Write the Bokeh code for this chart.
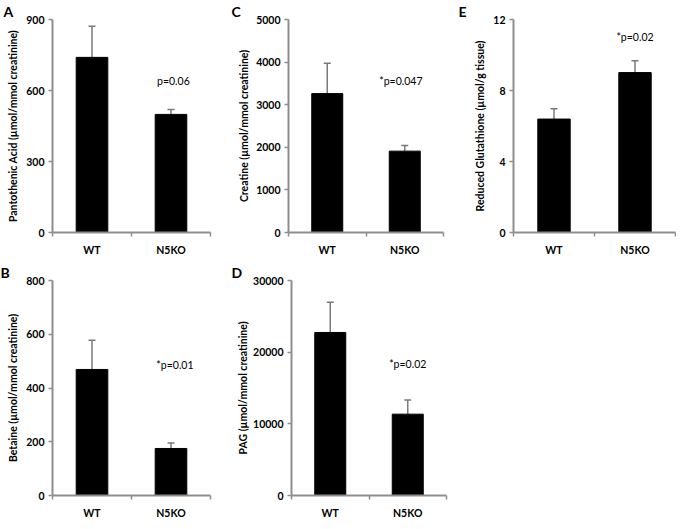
from bokeh.plotting import figure
from bokeh.models import Range1d, FixedTicker, Whisker, TeeHead, ColumnDataSource, Label
from bokeh.layouts import column, row
from bokeh.embed import file_html
from bokeh.resources import INLINE

# ---------------- data ----------------
categories = ["WT", "N5KO"]

pantothenic_mean = [740, 499]
pantothenic_sem = [132, 21]

betaine_mean = [469, 175]
betaine_sem = [109, 20]

creatine_mean = [3260, 1910]
creatine_sem = [715, 135]

pag_mean = [22750, 11350]
pag_sem = [4200, 1970]

glutathione_mean = [6.39, 9.01]
glutathione_sem = [0.58, 0.67]

ticks_pantothenic = [0, 300, 600, 900]
ticks_betaine = [0, 200, 400, 600, 800]
ticks_creatine = [0, 1000, 2000, 3000, 4000, 5000]
ticks_pag = [0, 10000, 20000, 30000]
ticks_glutathione = [0, 4, 8, 12]

p_texts = ["p=0.06", "*p=0.01", "*p=0.047", "*p=0.02", "*p=0.02"]

# ---------------- style ----------------
FONT = "Lato"
AXIS_GRAY = "#8e8e8e"
ERR_GRAY = "#7a7a7a"


def make_panel(letter, ylabel, means, sems, yticks, ptext, p_pos,
               width, height, left, right, top, bottom, label_standoff,
               letter_offset):
    n = len(categories)
    xs = [i + 0.5 for i in range(n)]
    his = [m + s for m, s in zip(means, sems)]
    src = ColumnDataSource(dict(x=xs, val=means, hi=his, cat=categories))

    p = figure(width=width, height=height, output_backend="svg",
               toolbar_location=None,
               x_range=Range1d(0, n), y_range=Range1d(yticks[0], yticks[-1]),
               min_border_left=left, min_border_right=right,
               min_border_top=top, min_border_bottom=bottom)
    p.outline_line_color = None
    p.xgrid.visible = False
    p.ygrid.visible = False
    p.background_fill_color = "white"
    p.border_fill_color = "white"

    # panel letter as title
    p.title.text = letter
    p.title.align = "left"
    p.title.offset = letter_offset
    p.title.standoff = 0
    p.title.text_font = FONT
    p.title.text_font_style = "bold"
    p.title.text_font_size = "14px"
    p.title.text_color = "black"

    p.vbar(x="x", top="val", width=0.4, source=src,
           fill_color="black", line_color="black")

    w = Whisker(source=src, base="x", lower="val", upper="hi",
                line_color=ERR_GRAY, line_width=1.5,
                upper_head=TeeHead(size=7, line_color=ERR_GRAY, line_width=1.5),
                lower_head=None)
    p.add_layout(w)

    # x axis
    xa = p.xaxis[0]
    xa.ticker = FixedTicker(ticks=xs, minor_ticks=list(range(n + 1)))
    xa.major_label_overrides = {x: c for x, c in zip(xs, categories)}
    xa.axis_line_color = AXIS_GRAY
    xa.axis_line_width = 2
    xa.major_tick_out = 0
    xa.major_tick_in = 0
    xa.minor_tick_out = 4
    xa.minor_tick_in = 0
    xa.minor_tick_line_color = AXIS_GRAY
    xa.minor_tick_line_width = 1.5
    xa.major_label_text_font = FONT
    xa.major_label_text_font_style = "bold"
    xa.major_label_text_font_size = "10.5px"
    xa.major_label_text_color = "black"
    xa.major_label_standoff = 7

    # y axis
    ya = p.yaxis[0]
    ya.ticker = FixedTicker(ticks=yticks, minor_ticks=[])
    ya.axis_line_color = AXIS_GRAY
    ya.axis_line_width = 2
    ya.major_tick_out = 4
    ya.major_tick_in = 0
    ya.major_tick_line_color = AXIS_GRAY
    ya.major_tick_line_width = 1.5
    ya.minor_tick_line_color = None
    ya.major_label_text_font = FONT
    ya.major_label_text_font_style = "bold"
    ya.major_label_text_font_size = "10.5px"
    ya.major_label_text_color = "black"
    ya.major_label_standoff = 4
    ya.axis_label = ylabel
    ya.axis_label_text_font = FONT
    ya.axis_label_text_font_style = "bold"
    ya.axis_label_text_font_size = "10.5px"
    ya.axis_label_text_color = "black"
    ya.axis_label_standoff = label_standoff

    # p value text
    p.add_layout(Label(x=p_pos[0], y=p_pos[1], text=ptext,
                       text_font=FONT, text_font_size="10.5px",
                       text_color="black", text_align="center",
                       text_baseline="middle"))
    return p


pA = make_panel("A", "Pantothenic Acid (µmol/mmol creatinine)",
                pantothenic_mean, pantothenic_sem, ticks_pantothenic,
                p_texts[0], (1.53, 641), 227, 258, 52, 17, 17, 19, 4, -49)
pB = make_panel("B", "Betaine (µmol/mmol creatinine)",
                betaine_mean, betaine_sem, ticks_betaine,
                p_texts[1], (1.55, 486), 227, 263, 52, 17, 22, 19, 4, -52)
pC = make_panel("C", "Creatine (µmol/mmol creatinine)",
                creatine_mean, creatine_sem, ticks_creatine,
                p_texts[2], (1.45, 3560), 227, 258, 61, 11, 17, 19, 3, -57)
pD = make_panel("D", "PAG (µmol/mmol creatinine)",
                pag_mean, pag_sem, ticks_pag,
                p_texts[3], (1.5, 18400), 227, 263, 64, 8, 22, 20, 1, -60)
pE = make_panel("E", "Reduced Glutathione (µmol/g tissue)",
                glutathione_mean, glutathione_sem, ticks_glutathione,
                p_texts[4], (1.5, 11.04), 222, 258, 59, 1, 17, 19, 4, -55)

layout = column(row(pA, pC, pE), row(pB, pD))

open("out.html", "w").write(file_html(layout, INLINE))
